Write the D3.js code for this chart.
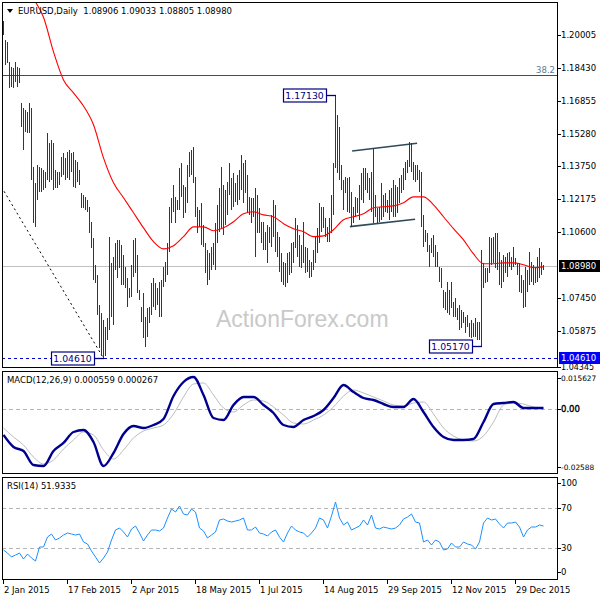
<!DOCTYPE html>
<html><head><meta charset="utf-8">
<script src="https://cdn.jsdelivr.net/npm/d3@7"></script>
<style>
html,body{margin:0;padding:0;background:#fff;}
svg{display:block;font-family:"DejaVu Sans",sans-serif;}
</style></head><body>
<svg id="c" width="600" height="600"></svg>
<script>
// ---------- DATA ----------
const symbolTitle = "EURUSD,Daily";
const lastOHLC = ["1.08906", "1.09033", "1.08805", "1.08980"];
const highs = [
1.2068,1.1977,1.1968,1.1872,1.1848,1.1844,1.1872,1.1848,1.1844,1.1677,
1.1653,1.1643,1.1634,1.1677,1.1653,1.1371,1.1295,1.1381,1.1371,1.1367,
1.1357,1.1348,1.1534,1.1486,1.1500,1.1486,1.1357,1.1348,1.1348,1.1419,
1.1438,1.1414,1.1443,1.1453,1.1438,1.1443,1.1405,1.1395,1.1357,1.1247,
1.1238,1.1228,1.1214,1.1181,1.1109,1.1033,1.0904,1.0856,1.0713,1.0675,
1.0642,1.0608,1.0651,1.1038,1.0913,1.0942,1.1009,1.1023,1.1023,1.0999,
1.0952,1.0894,1.0842,1.0794,1.0904,1.1023,1.1033,1.0952,1.0785,1.0704,
1.0770,1.0656,1.0699,1.0704,1.0818,1.0842,1.0818,1.0794,1.0823,1.0832,
1.0894,1.0918,1.1009,1.1181,1.1224,1.1286,1.1228,1.1214,1.1367,1.1390,
1.1286,1.1276,1.1381,1.1443,1.1453,1.1467,1.1324,1.1181,1.1166,1.1200,
1.1095,1.1009,1.0976,1.0961,1.0990,1.1009,1.1104,1.1190,1.1271,1.1371,
1.1286,1.1262,1.1300,1.1390,1.1319,1.1343,1.1295,1.1333,1.1357,1.1429,
1.1390,1.1405,1.1333,1.1228,1.1224,1.1224,1.1271,1.1238,1.1176,1.1109,
1.1109,1.1061,1.1095,1.1085,1.1142,1.1214,1.1190,1.1061,1.1038,1.0961,
1.0918,1.0913,1.0961,1.0966,1.1009,1.1014,1.1128,1.1095,1.1047,1.0999,
1.1109,1.0990,1.0985,1.0928,1.0918,1.0976,1.1038,1.1080,1.1200,1.1181,
1.1181,1.1128,1.1085,1.1128,1.1238,1.1390,1.1713,1.1619,1.1562,1.1381,
1.1309,1.1324,1.1319,1.1324,1.1252,1.1181,1.1228,1.1224,1.1286,1.1343,
1.1367,1.1367,1.1343,1.1319,1.1348,1.1462,1.1238,1.1176,1.1181,1.1295,
1.1238,1.1247,1.1214,1.1262,1.1271,1.1309,1.1286,1.1276,1.1319,1.1333,
1.1367,1.1395,1.1405,1.1491,1.1486,1.1395,1.1381,1.1381,1.1357,1.1348,
1.1142,1.1071,1.1057,1.0999,1.1033,1.1047,1.0999,1.0966,1.0894,1.0890,
1.0785,1.0775,1.0823,1.0785,1.0823,1.0727,1.0747,1.0699,1.0713,1.0689,
1.0680,1.0656,1.0666,1.0627,1.0642,1.0627,1.0651,1.0632,1.0632,1.0976,
1.0913,1.0890,1.0890,1.1038,1.1033,1.1038,1.1057,1.1057,1.0966,1.0928,
1.0952,1.0942,1.0961,1.0966,1.0942,1.0990,1.0937,1.0913,1.0913,1.0856,
1.0832,1.0894,1.0880,1.0966,1.0918,1.0904,1.0894,1.0942,1.0985,1.0918,
1.0903];
const lows = [
1.2001,1.1858,1.1868,1.1748,1.1753,1.1748,1.1777,1.1753,1.1772,1.1562,
1.1453,1.1538,1.1534,1.1534,1.1309,1.1104,1.1085,1.1214,1.1252,1.1252,
1.1262,1.1271,1.1309,1.1300,1.1309,1.1262,1.1271,1.1271,1.1286,1.1324,
1.1333,1.1309,1.1319,1.1309,1.1348,1.1276,1.1271,1.1300,1.1286,1.1176,
1.1176,1.1166,1.1157,1.1057,1.0985,1.0832,1.0818,1.0666,1.0508,1.0470,
1.0461,1.0470,1.0546,1.0594,1.0656,1.0618,1.0880,1.0842,1.0890,1.0808,
1.0808,1.0794,1.0704,1.0747,1.0751,1.0847,1.0866,1.0770,1.0737,1.0632,
1.0556,1.0513,1.0561,1.0627,1.0666,1.0704,1.0689,1.0713,1.0656,1.0656,
1.0799,1.0823,1.0856,1.0966,1.1104,1.1157,1.1104,1.1166,1.1166,1.1228,
1.1128,1.1152,1.1200,1.1324,1.1333,1.1295,1.1133,1.1057,1.1085,1.0999,
1.0990,1.0866,1.0808,1.0832,1.0880,1.0904,1.0880,1.1009,1.1061,1.1080,
1.1047,1.1095,1.1142,1.1238,1.1166,1.1181,1.1204,1.1190,1.1214,1.1262,
1.1200,1.1247,1.1152,1.1142,1.1104,1.1133,1.0942,1.1057,1.1057,1.1009,
1.0976,1.0976,1.0913,1.1009,1.0990,1.1038,1.0966,1.0942,1.0871,1.0823,
1.0808,1.0799,1.0818,1.0856,1.0866,1.0913,1.0985,1.0942,1.0894,1.0890,
1.0913,1.0866,1.0871,1.0842,1.0847,1.0880,1.0913,1.0961,1.1009,1.1061,
1.1080,1.1038,1.1014,1.1014,1.1057,1.1142,1.1367,1.1343,1.1309,1.1262,
1.1166,1.1247,1.1157,1.1152,1.1085,1.1104,1.1133,1.1152,1.1119,1.1214,
1.1200,1.1262,1.1247,1.1214,1.1157,1.1104,1.1133,1.1104,1.1109,1.1119,
1.1133,1.1157,1.1152,1.1119,1.1157,1.1133,1.1133,1.1152,1.1200,1.1247,
1.1262,1.1309,1.1343,1.1371,1.1348,1.1309,1.1300,1.1309,1.1252,1.1085,
1.0990,1.1014,1.0966,1.0894,1.0961,1.0942,1.0894,1.0894,1.0823,1.0794,
1.0699,1.0689,1.0675,1.0666,1.0699,1.0656,1.0656,1.0642,1.0594,1.0603,
1.0627,1.0580,1.0608,1.0561,1.0556,1.0561,1.0561,1.0546,1.0546,1.0517,
1.0794,1.0818,1.0823,1.0866,1.0904,1.0913,1.0890,1.0880,1.0808,1.0794,
1.0823,1.0866,1.0847,1.0894,1.0880,1.0894,1.0904,1.0856,1.0775,1.0770,
1.0699,1.0704,1.0775,1.0808,1.0823,1.0808,1.0818,1.0823,1.0842,1.0856,
1.0881];
// moving average, one value every 5 bars
const maStep = 5;
const maValues = [
1.2407,1.2290,1.2225,1.2172,1.2085,1.1920,1.1786,1.1724,1.1662,1.1572,
1.1414,1.1295,1.1224,1.1152,1.1080,1.1014,1.0980,1.0995,1.1038,1.1085,
1.1085,1.1066,1.1080,1.1109,1.1147,1.1157,1.1142,1.1133,1.1100,1.1076,
1.1061,1.1038,1.1042,1.1071,1.1119,1.1133,1.1147,1.1176,1.1181,1.1185,
1.1200,1.1228,1.1228,1.1190,1.1133,1.1076,1.1023,1.0956,1.0909,1.0909,
1.0913,1.0913,1.0904,1.0890,1.0894];
// MACD(12,26,9), one value every 5 bars
const macdStep = 5;
const macdMain = [
-0.01042,-0.01530,-0.01693,-0.02263,-0.02303,-0.01693,-0.01367,-0.00920,-0.00838,-0.01327,
-0.02303,-0.01774,-0.01001,-0.00676,-0.00757,-0.00635,-0.00391,0.00545,0.01115,0.01318,
0.00586,-0.00350,-0.00431,0.00179,0.00505,0.00505,0.00179,-0.00146,-0.00635,-0.00716,
-0.00431,-0.00269,-0.00024,0.00464,0.00993,0.00708,0.00464,0.00383,0.00220,0.00098,
0.00098,0.00423,-0.00106,-0.00716,-0.01123,-0.01245,-0.01245,-0.01205,-0.00513,0.00220,
0.00260,0.00301,0.00057,0.00057,0.000559];
const macdSignal = [
-0.00757,-0.01123,-0.01449,-0.01937,-0.02222,-0.02059,-0.01611,-0.01245,-0.00920,-0.01042,
-0.01652,-0.02018,-0.01652,-0.01164,-0.00879,-0.00757,-0.00635,-0.00187,0.00505,0.01034,
0.01074,0.00586,0.00057,-0.00106,0.00179,0.00383,0.00342,0.00098,-0.00228,-0.00553,
-0.00594,-0.00431,-0.00228,0.00098,0.00545,0.00789,0.00667,0.00505,0.00342,0.00179,
0.00138,0.00260,0.00301,-0.00187,-0.00757,-0.01082,-0.01245,-0.01286,-0.01082,-0.00513,
0.00179,0.00260,0.00220,0.00098,0.000267];
// RSI(14), one value every 2 bars
const rsiStep = 2;
const rsiValues = [
28,25,21,23,25,19,24,20,17,31,31,41,44,38,40,43,45,44,43,44,
36,34,27,21,15,20,26,38,48,50,46,41,49,52,45,37,43,48,48,47,
50,60,69,66,72,64,63,69,66,50,47,40,43,46,58,59,57,56,57,58,
60,48,48,51,45,44,42,46,48,41,36,45,52,48,46,45,41,45,50,60,
58,50,62,76,60,53,56,48,50,52,58,53,63,50,49,51,50,49,50,53,
59,61,64,56,55,36,38,33,38,36,28,29,35,31,31,36,34,33,29,36,
55,60,58,59,54,50,55,55,56,51,41,48,51,51,53,51.93];
const dateLabels = ["2 Jan 2015","17 Feb 2015","2 Apr 2015","18 May 2015","1 Jul 2015","14 Aug 2015","29 Sep 2015","12 Nov 2015","29 Dec 2015"];
const dateBarIdx = [0,32,64,96,128,160,192,224,256];
const priceTicks = [1.20005,1.18430,1.16855,1.15280,1.13750,1.12175,1.10600,1.07450,1.05875,1.04345];
const macdTicks = [0.015627, 0, -0.02588];
const macdTickText = ["0.015627","0.00","-0.02588"];
const rsiTicks = [100,70,30,0];
const rsiLevels = [70,30];
const fibLevel = 1.1810, fibText = "38.2";
const lastClose = 1.0898, lastCloseText = "1.08980";
const supportLevel = 1.0461, supportText = "1.04610";
// annotations: [bar index, price, text]
const extremes = [[166,1.1713,"1.17130"],[50,1.0461,"1.04610"],[239,1.0517,"1.05170"]];
// trendlines: [bar index, price]
const dottedTrend = [[-1,1.1275],[49.5,1.0466]];
const channelUpper = [[174.3,1.1447],[206.8,1.1484]];
const channelLower = [[173.2,1.1086],[205.8,1.1121]];
const macdTitle = "MACD(12,26,9) 0.000559 0.000267";
const rsiTitle = "RSI(14) 51.9335";
const watermark = "ActionForex.com";

// ---------- DRAW ----------
const svg = d3.select('#c');
const L = 2, R = 557;
const panels = {price:[2,367], macd:[371,473], rsi:[477,579]};
const x = d3.scaleLinear().domain([0,270]).range([3,543]);
const yP = d3.scaleLinear().domain([1.0416,1.2158]).range([367,2]);
const yM = d3.scaleLinear().domain([-0.02588,0.015627]).range([473,371]);
const yR = d3.scaleLinear().domain([0,100]).range([578,478]);
const barColor = "#1a3d5a";
const fnt = "DejaVu Sans";

const defs = svg.append('defs');
Object.entries(panels).forEach(([k,[t,b]]) => {
  defs.append('clipPath').attr('id','clip-'+k).append('rect')
    .attr('x',L+1).attr('y',t+1).attr('width',R-L-1).attr('height',b-t-1);
});

// ===== price panel =====
const gp = svg.append('g').attr('clip-path','url(#clip-price)');
gp.append('text').attr('x',216).attr('y',327).attr('font-family','Liberation Sans, Arial, sans-serif')
  .attr('font-size',23).attr('fill','#c9c9c9').text(watermark);

const hline = (g, v, color, dash, w) => g.append('line')
  .attr('x1',L).attr('x2',R).attr('y1',Math.round(yP(v))+0.5).attr('y2',Math.round(yP(v))+0.5)
  .attr('stroke',color).attr('stroke-width',w||1).attr('stroke-dasharray',dash||null)
  .attr('shape-rendering','crispEdges');
hline(gp, lastClose, '#c0c0c0');
hline(gp, fibLevel, '#3c4e58');
hline(gp, supportLevel, '#0000d0', '3,3');
gp.append('text').attr('x',555).attr('y',Math.round(yP(fibLevel))-2).attr('text-anchor','end')
  .attr('font-family',fnt).attr('font-size',8.5).attr('fill','#5a7a98').text(fibText);

const line = d3.line().x(d=>x(d[0])+0.5).y(d=>yP(d[1]));
gp.append('path').attr('d',line(dottedTrend)).attr('fill','none').attr('stroke','#000')
  .attr('stroke-width',1).attr('stroke-dasharray','2,3');
[channelUpper, channelLower].forEach(c => gp.append('path').attr('d',line(c)).attr('fill','none')
  .attr('stroke','#2f4a58').attr('stroke-width',1.6));

gp.append('g').selectAll('line').data(highs).join('line')
  .attr('x1',(d,i)=>x(i)+0.5).attr('x2',(d,i)=>x(i)+0.5)
  .attr('y1',d=>Math.round(yP(d)))
  .attr('y2',(d,i)=>Math.max(Math.round(yP(lows[i])), Math.round(yP(d))+2))
  .attr('stroke',barColor).attr('stroke-width',1).attr('shape-rendering','crispEdges');

const maPts = maValues.map((v,k)=>[k*maStep, v]);
gp.append('path').attr('d', d3.line().x(d=>x(d[0])+0.5).y(d=>yP(d[1])).curve(d3.curveMonotoneX)(maPts))
  .attr('fill','none').attr('stroke','#ff0000').attr('stroke-width',1.1);

// annotation boxes
extremes.forEach(([i,v,t]) => {
  const yy = Math.round(yP(v))+0.5;
  const bx = x(i) - 9;
  gp.append('line').attr('x1',bx).attr('x2',x(i)+1).attr('y1',yy).attr('y2',yy)
    .attr('stroke','#000080').attr('stroke-width',1.3);
  gp.append('rect').attr('x',bx-43+0.5).attr('y',yy-6.5).attr('width',43).attr('height',13)
    .attr('fill','#fff').attr('stroke','#000080').attr('stroke-width',1.2);
  gp.append('text').attr('x',bx-21.5).attr('y',yy+3.5).attr('text-anchor','middle')
    .attr('font-family',fnt).attr('font-size',9.3).attr('fill','#000080').text(t);
});

// ===== MACD panel =====
const gm = svg.append('g').attr('clip-path','url(#clip-macd)');
gm.append('line').attr('x1',L).attr('x2',R).attr('y1',Math.round(yM(0))+0.5).attr('y2',Math.round(yM(0))+0.5)
  .attr('stroke','#b4b4b4').attr('stroke-dasharray','4,3').attr('shape-rendering','crispEdges');
const mLine = d3.line().x(d=>x(d[0])+0.5).y(d=>yM(d[1])).curve(d3.curveMonotoneX);
gm.append('path').attr('d', mLine(macdSignal.map((v,k)=>[k*macdStep,v])))
  .attr('fill','none').attr('stroke','#bdbdbd').attr('stroke-width',1);
gm.append('path').attr('d', mLine(macdMain.map((v,k)=>[k*macdStep,v])))
  .attr('fill','none').attr('stroke','#000090').attr('stroke-width',2.4);

// ===== RSI panel =====
const gr = svg.append('g').attr('clip-path','url(#clip-rsi)');
rsiLevels.forEach(v => gr.append('line').attr('x1',L).attr('x2',R)
  .attr('y1',Math.round(yR(v))+0.5).attr('y2',Math.round(yR(v))+0.5)
  .attr('stroke','#b4b4b4').attr('stroke-dasharray','4,3').attr('shape-rendering','crispEdges'));
gr.append('path').attr('d', d3.line().x(d=>x(d[0])+0.5).y(d=>yR(d[1]))(rsiValues.map((v,k)=>[k*rsiStep,v])))
  .attr('fill','none').attr('stroke','#1e90ff').attr('stroke-width',1);

// ===== frames =====
Object.values(panels).forEach(([t,b]) => svg.append('rect')
  .attr('x',L+0.5).attr('y',t+0.5).attr('width',R-L).attr('height',b-t)
  .attr('fill','none').attr('stroke','#000').attr('stroke-width',1).attr('shape-rendering','crispEdges'));

// ===== right axes =====
const axisLabel = (yy, t, opts) => {
  opts = opts || {};
  svg.append('line').attr('x1',R).attr('x2',R+4).attr('y1',Math.round(yy)+0.5).attr('y2',Math.round(yy)+0.5)
    .attr('stroke','#000').attr('shape-rendering','crispEdges');
  const size = opts.size || (t.length > 7 ? 7.4 : 8.5);
  const tx = svg.append('text').attr('x',R+4).attr('y',yy).attr('dy','0.36em')
    .attr('font-family',fnt).attr('font-size',size).attr('fill','#000').text(t);
  if (opts.bold) tx.attr('stroke','#000').attr('stroke-width',0.35);
};
priceTicks.forEach(v => v===1.04345
  ? axisLabel(367, v.toFixed(5), {size:8})
  : axisLabel(yP(v), v.toFixed(5)));
const badge = (v, t, color) => {
  const yy = Math.round(yP(v));
  svg.append('rect').attr('x',R+2).attr('y',yy-6).attr('width',42).attr('height',12).attr('fill',color);
  svg.append('text').attr('x',R+4).attr('y',yy).attr('dy','0.36em')
    .attr('font-family',fnt).attr('font-size',8.5).attr('fill','#fff').text(t);
};
badge(lastClose, lastCloseText, '#000');
badge(supportLevel, supportText, '#0000ff');

macdTicks.forEach((v,k) => {
  const yy = Math.min(Math.max(yM(v), panels.macd[0]+7), panels.macd[1]-6);
  axisLabel(yy, macdTickText[k], {bold: v === 0});
});
rsiTicks.forEach(v => {
  const yy = Math.min(Math.max(yR(v), panels.rsi[0]+6), panels.rsi[1]-7);
  axisLabel(yy, String(v));
});

// ===== date axis =====
dateBarIdx.forEach((i,k) => {
  svg.append('line').attr('x1',x(i)+0.5).attr('x2',x(i)+0.5).attr('y1',579).attr('y2',584)
    .attr('stroke','#000').attr('shape-rendering','crispEdges');
  svg.append('text').attr('x',x(i)+1).attr('y',593).attr('font-family',fnt).attr('font-size',8.5)
    .attr('fill','#000').text(dateLabels[k]);
});

// ===== titles =====
svg.append('path').attr('d','M7,9 L13,9 L10,13 Z').attr('fill','#000');
svg.append('text').attr('x',18).attr('y',14).attr('font-family',fnt).attr('font-size',8.5)
  .attr('fill','#000').attr('xml:space','preserve')
  .text(symbolTitle + "  " + lastOHLC.join(" "));
svg.append('text').attr('x',7).attr('y',383).attr('font-family',fnt).attr('font-size',8.5)
  .attr('fill','#000').text(macdTitle);
svg.append('text').attr('x',7).attr('y',489).attr('font-family',fnt).attr('font-size',8.5)
  .attr('fill','#000').text(rsiTitle);
</script>
</body></html>
